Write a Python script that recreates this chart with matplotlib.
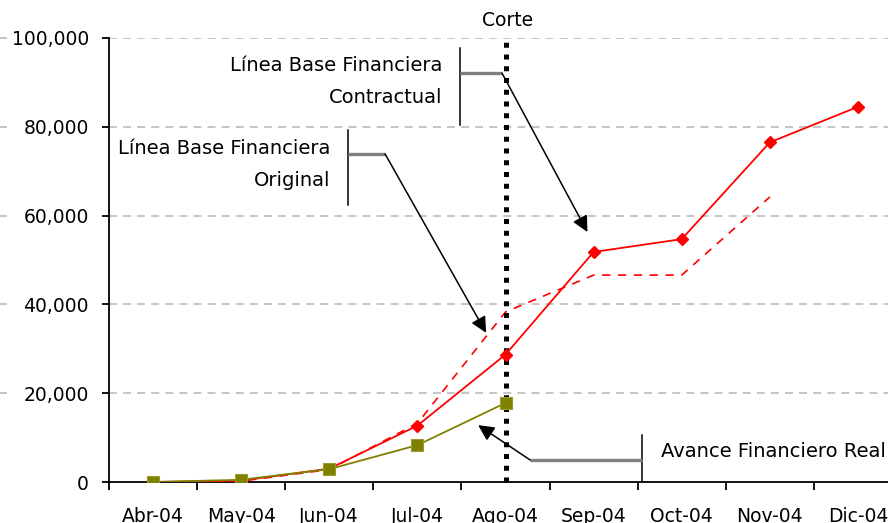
import numpy as np
import matplotlib
matplotlib.use("Agg")
import matplotlib.pyplot as plt
from matplotlib.ticker import FuncFormatter
from matplotlib.transforms import blended_transform_factory

# datos
meses = ["Abr-04", "May-04", "Jun-04", "Jul-04", "Ago-04", "Sep-04", "Oct-04", "Nov-04", "Dic-04"]
contractual = [0, 300, 3000, 12700, 28700, 51800, 54700, 76500, 84500]
original = [0, 200, 2800, 13200, 38300, 46600, 46600, 64200]
avance_real = [0, 500, 2900, 8300, 17800]
corte_idx = 4

plt.rcParams["font.family"] = ["DejaVu Sans"]
fs = 13.5

fig = plt.figure(figsize=(8.88, 5.23), dpi=100)
ax = fig.add_axes([109 / 888, 41 / 523, 793 / 888, 444 / 523])

x = np.arange(len(meses))

# grid
for v in range(20000, 100001, 20000):
    ax.axhline(v, color="#c0c0c0", lw=1.3, ls=(0, (4.4, 3.4)), zorder=0)

# trozos de grid a la izquierda
trans_l = blended_transform_factory(fig.transFigure, ax.transData)
for v in range(20000, 100001, 20000):
    ax.plot([0, 6 / 888], [v, v], color="#c0c0c0", lw=1.3, transform=trans_l, clip_on=False)

# series
ax.plot(x[: len(original)], original, color="red", lw=1.2, ls=(0, (5, 4.5)), zorder=3)
ax.plot(x, contractual, color="red", lw=1.3, marker="D", ms=6.4, mfc="red", mec="red", zorder=4)
ax.plot(x[: len(avance_real)], avance_real, color="#808000", lw=1.3, marker="s", ms=8,
        mfc="#808000", mec="#9a9a30", mew=0.8, zorder=4)

# linea de corte
ax.plot([corte_idx, corte_idx], [0, 100000], color="black", lw=3.6,
        ls=(0, (1.0, 1.35)), solid_capstyle="butt", dash_capstyle="butt", zorder=3, clip_on=False)
ax.text(corte_idx + 0.02, 104000, "Corte", ha="center", va="center", fontsize=fs, clip_on=False)

# llamadas
def llamada(lineas, tx, tys, ha, bar_x, bar_y0, bar_y1, codo_x, codo_y, punta):
    ax.plot([bar_x, bar_x], [bar_y0, bar_y1], color="black", lw=1.1, zorder=5)
    ax.plot([bar_x, codo_x], [codo_y, codo_y], color="#808080", lw=2.4, zorder=5,
            solid_capstyle="butt")
    ax.annotate("", xy=punta, xytext=(codo_x, codo_y),
                arrowprops=dict(arrowstyle="-|>", color="black", lw=1.1,
                                mutation_scale=24, shrinkA=0, shrinkB=0),
                zorder=5)
    for linea, ty in zip(lineas, tys):
        ax.text(tx, ty, linea, ha=ha, va="center", fontsize=fs + 0.5, zorder=6)

llamada(["Línea Base Financiera", "Contractual"], 3.28, [93700, 86500], "right",
        3.485, 80400, 97700, 3.96, 92100, (4.93, 56300))
llamada(["Línea Base Financiera", "Original"], 2.009, [75200, 68000], "right",
        2.213, 62400, 79300, 2.633, 73900, (3.78, 33600))
llamada(["Avance Financiero Real"], 5.766, [6800], "left",
        5.55, 0, 10600, 4.28, 4950, (3.69, 12800))

# ejes
ax.set_xlim(-0.5, 8.5)
ax.set_ylim(0, 100000)
for s in ["top", "right"]:
    ax.spines[s].set_visible(False)
for s in ["left", "bottom"]:
    ax.spines[s].set_linewidth(1.3)

ax.set_yticks(range(0, 100001, 20000))
ax.yaxis.set_major_formatter(FuncFormatter(lambda v, p: f"{int(v):,}"))
ax.tick_params(axis="y", direction="out", length=5, width=1.3, pad=9.5, labelsize=fs)

ax.set_xticks(np.arange(-0.5, 9, 1))
ax.set_xticklabels([])
ax.tick_params(axis="x", which="major", direction="out", length=6, width=1.3)
ax.set_xticks(x, minor=True)
ax.set_xticklabels(meses, minor=True)
ax.tick_params(axis="x", which="minor", length=0, pad=18, labelsize=fs)

fig.savefig("out.png", dpi=100)
